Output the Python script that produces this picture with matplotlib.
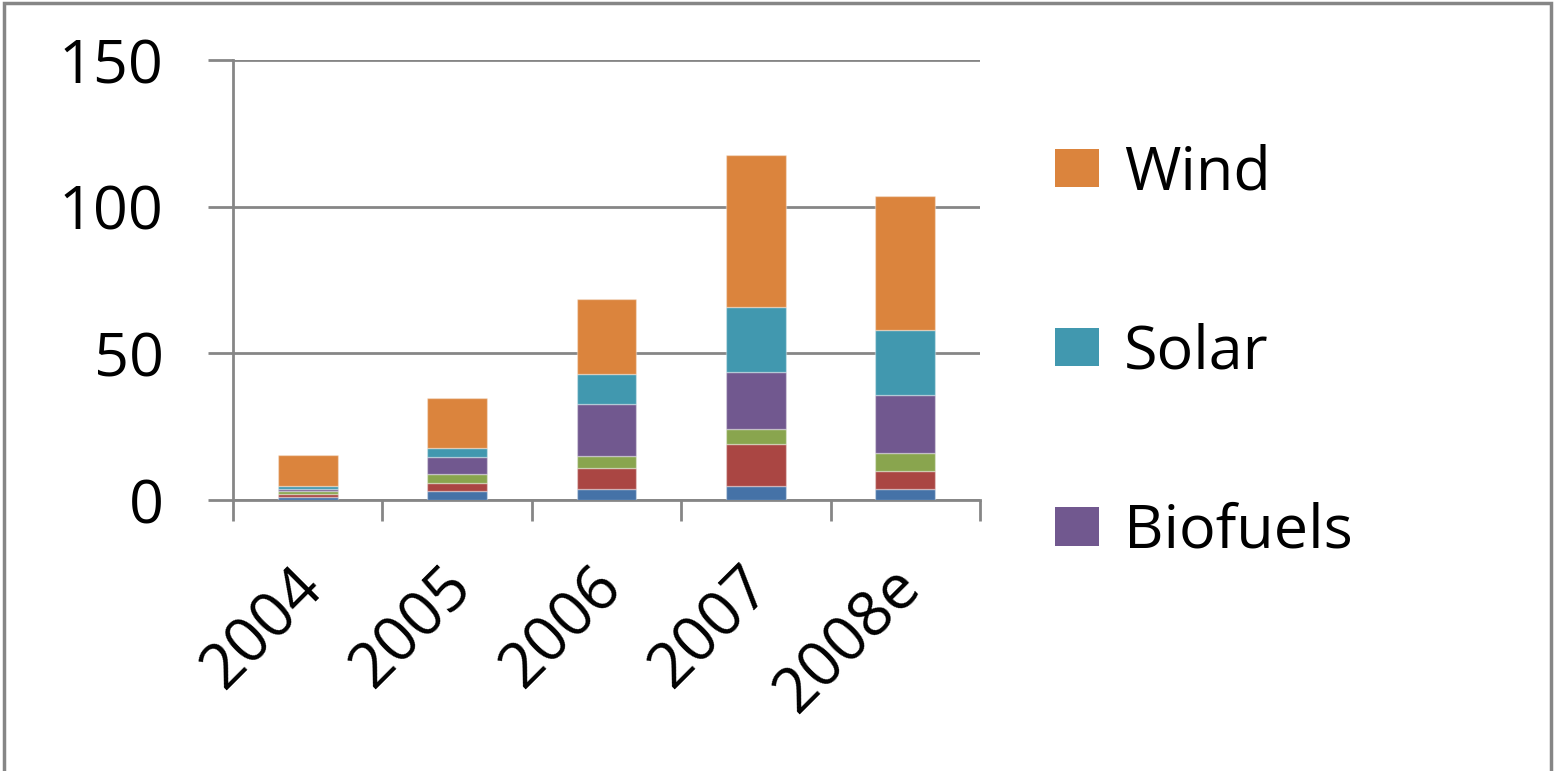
import matplotlib
matplotlib.use("Agg")
import matplotlib.pyplot as plt
from matplotlib.patches import Patch, Rectangle
from matplotlib.transforms import ScaledTranslation
import numpy as np

years = ["2004", "2005", "2006", "2007", "2008e"]
other = [1.0, 2.9, 3.9, 4.8, 3.9]
biomass = [0.9, 3.0, 7.1, 14.2, 6.0]
geothermal = [1.3, 2.9, 3.9, 5.1, 6.2]
biofuels = [0.7, 6.0, 17.8, 19.7, 19.8]
solar = [1.0, 2.9, 10.2, 22.0, 21.9]
wind = [10.5, 17.1, 25.6, 51.7, 46.0]

series = [
    ("Other", other, "#4572A7"),
    ("Biomass", biomass, "#AA4643"),
    ("Geothermal", geothermal, "#89A54E"),
    ("Biofuels", biofuels, "#71588F"),
    ("Solar", solar, "#4198AF"),
    ("Wind", wind, "#DB843D"),
]
legend_names = ["Wind", "Solar", "Biofuels"]
yticks = [0, 50, 100, 150]

plt.rcParams['font.family'] = ['Open Sans', 'DejaVu Sans']
fig = plt.figure(figsize=(15.56, 7.71), dpi=100)
ax = fig.add_axes([233/1556, 1-500/771, (980-233)/1556, 440/771])

x = np.arange(len(years))
bottom = np.zeros(len(years))
colors = {}
for name, vals, col in series:
    ax.bar(x, vals, width=0.4, bottom=bottom, color=col, edgecolor=(1, 1, 1, 0.35), linewidth=1, zorder=3)
    bottom += np.array(vals)
    colors[name] = col

ax.set_xlim(-0.5, 4.5)
ax.set_ylim(0, 150)
ax.set_yticks(yticks)
ax.set_yticklabels([str(v) for v in yticks], fontsize=44)
ax.grid(axis='y', color='#868686', linewidth=2, zorder=0)
ax.set_xticks(x)
ax.set_xticklabels(years, fontsize=45, rotation=45, ha='right', rotation_mode='anchor')
ax.set_xticks(np.arange(-0.5, 5.0, 1.0), minor=True)
ax.tick_params(axis='x', which='major', length=0, pad=40)
ax.tick_params(axis='x', which='minor', length=15, width=2, color='#868686', direction='out')
ax.tick_params(axis='y', which='major', length=18, width=2, color='#868686', pad=32)
for s in ['top', 'right']:
    ax.spines[s].set_visible(False)
for s in ['left', 'bottom']:
    ax.spines[s].set_color('#868686')
    ax.spines[s].set_linewidth(2)

off = ScaledTranslation(-16/100, 0, fig.dpi_scale_trans)
for lbl in ax.get_xticklabels():
    lbl.set_transform(lbl.get_transform() + off)

handles = [Patch(facecolor=colors[n], edgecolor='none') for n in legend_names]
leg = fig.legend(handles, legend_names, loc='upper left', bbox_to_anchor=(1031/1556, 1-119/771),
                 frameon=False, fontsize=44, labelspacing=1.95, handlelength=0.72, handleheight=0.6,
                 handletextpad=0.4, borderaxespad=0)

fig.patches.append(Rectangle((4/1556, -0.01), 1547/1556, 1-3/771 + 0.01, transform=fig.transFigure,
                             fill=False, edgecolor='#868686', linewidth=2.5))
fig.savefig("out.png", dpi=100)
